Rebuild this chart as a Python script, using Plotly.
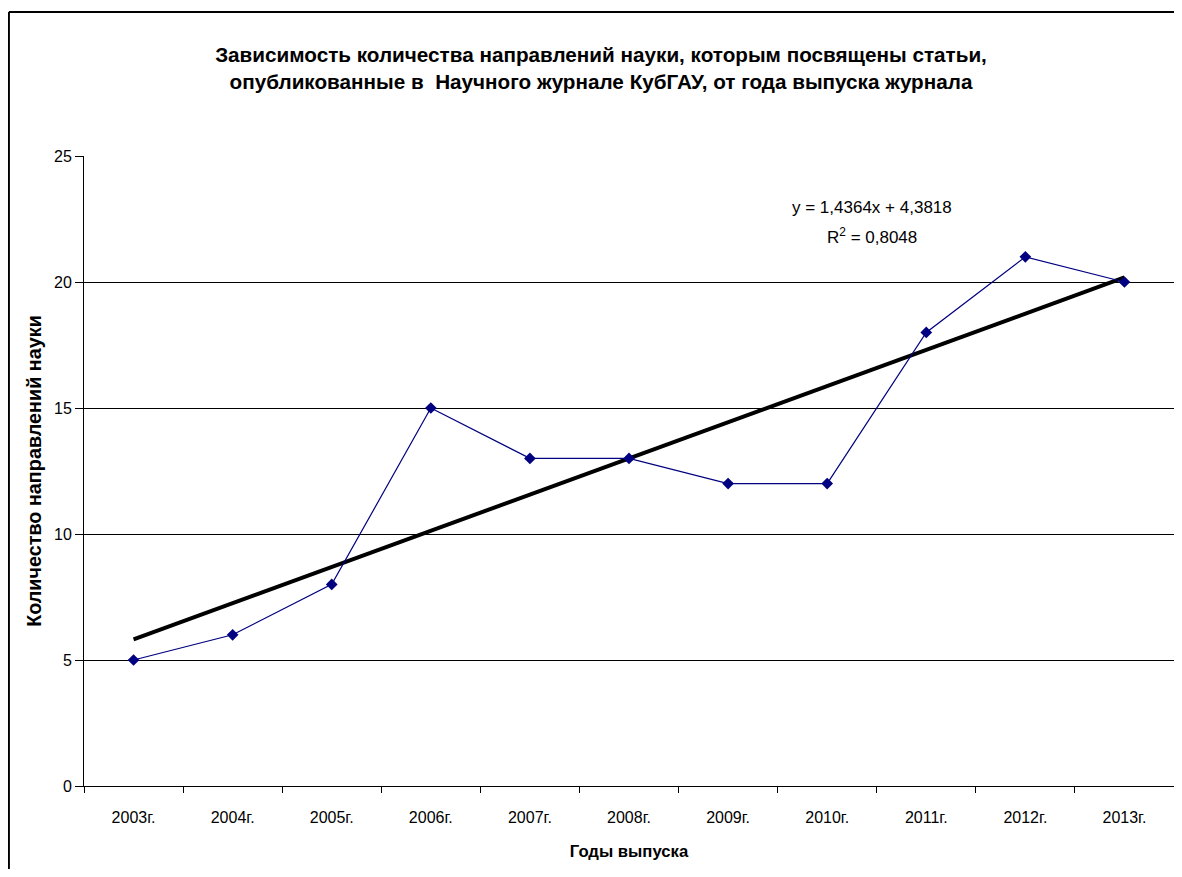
import plotly.graph_objects as go

# data
years = ["2003г.", "2004г.", "2005г.", "2006г.", "2007г.", "2008г.",
         "2009г.", "2010г.", "2011г.", "2012г.", "2013г."]
directions = [5, 6, 8, 15, 13, 13, 12, 12, 18, 21, 20]

# linear trend shown on the chart: y = 1,4364x + 4,3818
trend_slope = 1.4364
trend_intercept = 4.3818
trend_eq = "y = 1,4364x + 4,3818"
trend_r2 = "R<sup>2</sup> = 0,8048"

trend = [trend_slope * (i + 1) + trend_intercept for i in range(len(years))]

FONT = "Liberation Sans, Arial, sans-serif"
NAVY = "#000080"

fig = go.Figure()

fig.add_trace(go.Scatter(
    x=years, y=trend, mode="lines",
    line=dict(color="black", width=4),
    hoverinfo="skip", showlegend=False,
))

fig.add_trace(go.Scatter(
    x=years, y=directions, mode="lines+markers",
    line=dict(color=NAVY, width=1.2),
    marker=dict(symbol="diamond", size=9, color=NAVY),
    showlegend=False,
))

# page body has an 8px margin on every side; keep the figure inside the window
fig.update_layout(
    width=1166, height=861,
    margin=dict(l=76, r=0, t=148, b=83),
    paper_bgcolor="white", plot_bgcolor="white",
    font=dict(family=FONT, size=16, color="black"),
    title=dict(
        text="Зависимость количества направлений науки, которым посвящены статьи,<br>"
             "опубликованные в  Научного журнале КубГАУ, от года выпуска журнала",
        x=593 / 1166, xanchor="center", y=1 - 54 / 861, yanchor="middle",
        font=dict(family=FONT, size=20.7, color="black", weight="bold"),
    ),
    xaxis=dict(
        type="category", range=[-0.5, 10.5],
        tickson="boundaries", ticks="outside", ticklen=6, tickcolor="black",
        showline=True, linecolor="black", linewidth=1,
        showgrid=False, ticklabelstandoff=17,
        tickfont=dict(size=16),
        title=dict(text="Годы выпуска", standoff=20,
                   font=dict(size=16.7, weight="bold")),
    ),
    yaxis=dict(
        range=[0, 25], dtick=5,
        ticks="outside", ticklen=8, tickcolor="black",
        showline=True, linecolor="black", linewidth=1,
        showgrid=True, gridcolor="black", gridwidth=1,
        zeroline=False, tickfont=dict(size=16),
        title=dict(text="Количество направлений науки", standoff=7,
                   font=dict(size=19.8, weight="bold")),
    ),
    annotations=[
        dict(x=7.45, y=22.94, xref="x", yref="y", text=trend_eq,
             showarrow=False, font=dict(family=FONT, size=17, color="black")),
        dict(x=7.45, y=21.83, xref="x", yref="y", text=trend_r2,
             showarrow=False, font=dict(family=FONT, size=17, color="black")),
    ],
    shapes=[
        # outer chart border: only the left and top edges fall inside the picture
        dict(type="line", xref="paper", yref="paper",
             x0=-0.0689, x1=-0.0689, y0=-0.3, y1=1.2286,
             line=dict(color="black", width=2), layer="below"),
        dict(type="line", xref="paper", yref="paper",
             x0=-0.0689, x1=1.2, y0=1.2286, y1=1.2286,
             line=dict(color="black", width=2), layer="below"),
    ],
)

fig.write_html("out.html")
